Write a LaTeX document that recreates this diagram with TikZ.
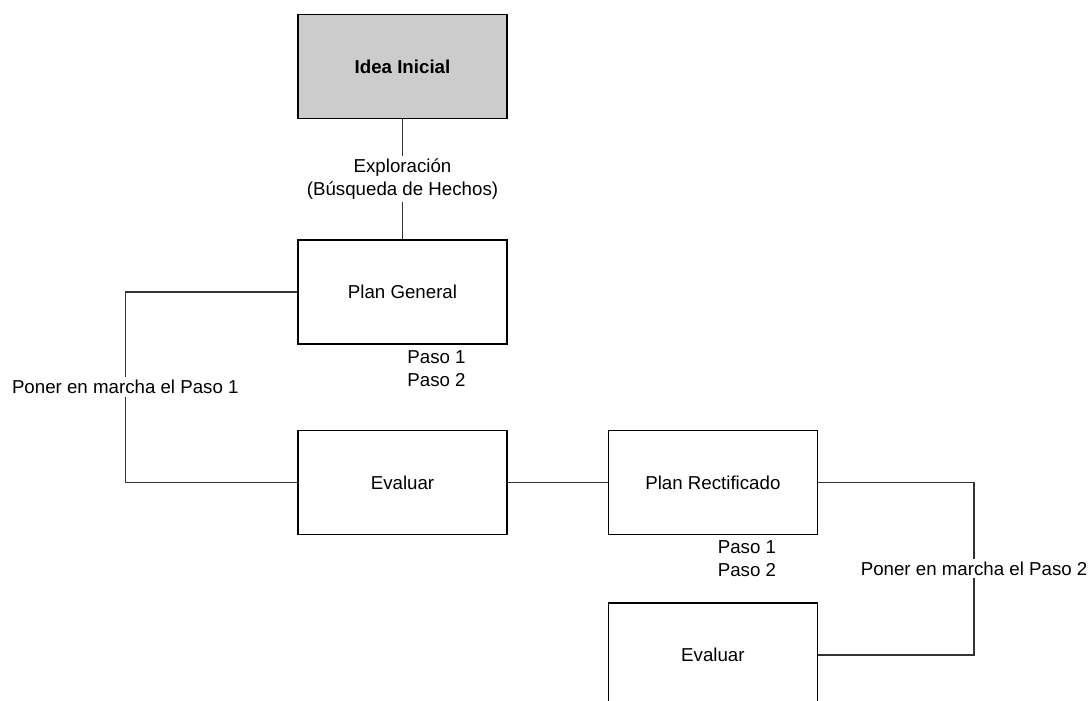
\documentclass[tikz,border=0pt]{standalone}
\usepackage{fontspec}
\setmainfont{Liberation Sans}
\usetikzlibrary{positioning}

\begin{document}
\begin{tikzpicture}[node distance=2.125cm, font=\fontsize{13.3}{16.3}\selectfont,
    every node/.style={align=center},
    box/.style={rectangle, draw=black, line width=1pt, minimum width=5.225cm, minimum height=2.6cm},
    link/.style={draw=black!80, line width=0.9pt},
    lbl/.style={fill=white, inner sep=2pt}]
    \clip (0,0) rectangle (27.275,-17.525);
    \node[box, fill=black!20, font=\fontsize{13.3}{16.3}\selectfont\bfseries] (idea) at (10.0625,-1.6625) {Idea Inicial};
    \node[box] (plan) [below=3.0cm of idea] {Plan General};
    \node[box] (eval1) [below=of plan] {Evaluar};
    \node[box] (rect) [right=2.5cm of eval1] {Plan Rectificado};
    \node[box] (eval2) [below=1.68cm of rect] {Evaluar};
    \node (paso1) at ([xshift=0.85cm, yshift=-0.59cm]plan.south) {Paso 1\\Paso 2};
    \node (paso2) at ([xshift=0.85cm, yshift=-0.59cm]rect.south) {Paso 1\\Paso 2};

    \draw[link] (idea) -- node[lbl] {Exploración\\(Búsqueda de Hechos)} (plan);
    \draw[link] (plan.west) -- ++(-4.3,0) |- node[lbl, pos=0.25] {Poner en marcha el Paso 1} (eval1.west);
    \draw[link] (eval1) -- (rect);
    \draw[link] (rect.east) -- ++(3.9,0) |- node[lbl, pos=0.25] {Poner en marcha el Paso 2} (eval2.east);
\end{tikzpicture}
\end{document}
